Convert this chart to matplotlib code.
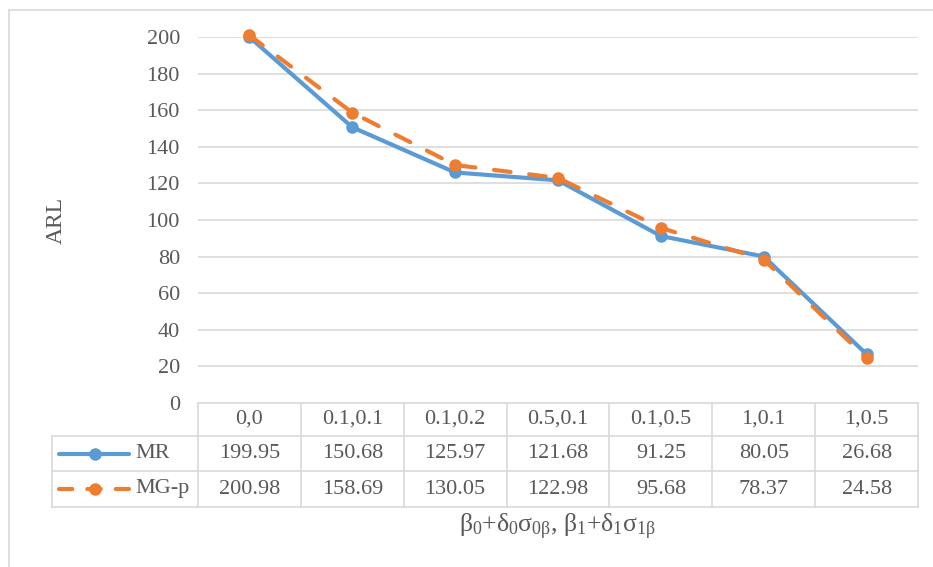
import matplotlib.pyplot as plt
from matplotlib.lines import Line2D
from matplotlib.patches import Rectangle

plt.rcParams['font.family'] = ['Liberation Serif', 'DejaVu Serif']
plt.rcParams['mathtext.fontset'] = 'custom'
plt.rcParams['mathtext.rm'] = 'Liberation Serif'
plt.rcParams['mathtext.it'] = 'Liberation Serif'

categories = ['0,0', '0.1,0.1', '0.1,0.2', '0.5,0.1', '0.1,0.5', '1,0.1', '1,0.5']
mr = [199.95, 150.68, 125.97, 121.68, 91.25, 80.05, 26.68]
mgp = [200.98, 158.69, 130.05, 122.98, 95.68, 78.37, 24.58]
yticks = [0, 20, 40, 60, 80, 100, 120, 140, 160, 180, 200]

BLUE = '#5B9BD5'
ORANGE = '#ED7D31'
GRID = '#D9D9D9'
TXT = '#595959'
FS = 16

W, H = 933, 567
fig = plt.figure(figsize=(W / 100, H / 100), dpi=100)

def fx(px):
    return px / W

def fy(py):
    return 1 - py / H

# outer chart border
fig.add_artist(Rectangle((fx(9), fy(568)), fx(940), fy(10) - fy(568),
                         transform=fig.transFigure, fill=False,
                         edgecolor=GRID, lw=1.2))

left, right, top, bottom = 198, 918, 37, 403
ax = fig.add_axes([fx(left), fy(bottom), fx(right - left), fy(top) - fy(bottom)])
n = len(categories)
xs = [i + 0.5 for i in range(n)]
ax.set_xlim(0, n)
ax.set_ylim(0, 200)
ax.set_yticks(yticks)
ax.set_yticklabels([str(v) for v in yticks], fontsize=FS, color=TXT)
ax.tick_params(axis='y', length=0, pad=13)
ax.set_xticks([])
for s in ax.spines.values():
    s.set_visible(False)
for v in yticks[1:]:
    ax.axhline(v, color=GRID, lw=1.2, zorder=0)

ax.plot(xs, mr, color=BLUE, lw=3, marker='o', ms=8, solid_capstyle='round',
        zorder=3, clip_on=False)
ax.plot(xs, mgp, color=ORANGE, lw=3, marker='o', ms=8, dashes=(4, 4.5),
        dash_capstyle='round', zorder=4, clip_on=False)

fig.text(fx(56), fy(220), 'ARL', rotation=90, ha='center', va='center',
         fontsize=FS + 1, color=TXT)

# data table under the plot
rows_y = [403, 436, 471, 507]
col_x = [left + (right - left) * i / n for i in range(n + 1)]
tleft = 52


def hline(y, x0, x1):
    fig.add_artist(Line2D([fx(x0), fx(x1)], [fy(y), fy(y)], color=GRID, lw=1.2))


def vline(x, y0, y1):
    fig.add_artist(Line2D([fx(x), fx(x)], [fy(y0), fy(y1)], color=GRID, lw=1.2))


hline(rows_y[0], left, right)
for y in rows_y[1:]:
    hline(y, tleft, right)
for x in col_x:
    vline(x, rows_y[0], rows_y[3])
vline(tleft, rows_y[1], rows_y[3])

for i, c in enumerate(categories):
    cx = (col_x[i] + col_x[i + 1]) / 2
    fig.text(fx(cx), fy((rows_y[0] + rows_y[1]) / 2), c, ha='center', va='center',
             fontsize=FS, color=TXT)
    fig.text(fx(cx), fy((rows_y[1] + rows_y[2]) / 2), f'{mr[i]:.2f}', ha='center',
             va='center', fontsize=FS, color=TXT)
    fig.text(fx(cx), fy((rows_y[2] + rows_y[3]) / 2), f'{mgp[i]:.2f}', ha='center',
             va='center', fontsize=FS, color=TXT)

# legend keys inside the table
series = [('MR', BLUE, None), ('MG-p', ORANGE, (3.2, 3.6))]
for k, (name, col, dash) in enumerate(series):
    yc = fy((rows_y[k + 1] + rows_y[k + 2]) / 2)
    ln = Line2D([fx(59), fx(129)], [yc, yc], color=col, lw=3,
                solid_capstyle='round', dash_capstyle='round')
    if dash:
        ln.set_dashes(dash)
    fig.add_artist(ln)
    fig.add_artist(Line2D([fx(95)], [yc], color=col, marker='o', ms=8, lw=0))
    fig.text(fx(135), yc, name, ha='left', va='center', fontsize=FS, color=TXT)

fig.text(fx(557), fy(527),
         r'$\beta_0{+}\delta_0\sigma_{0\beta}$, $\beta_1{+}\delta_1\sigma_{1\beta}$',
         ha='center', va='center', fontsize=FS + 2.5, color=TXT)

fig.savefig('out.png', dpi=100)
